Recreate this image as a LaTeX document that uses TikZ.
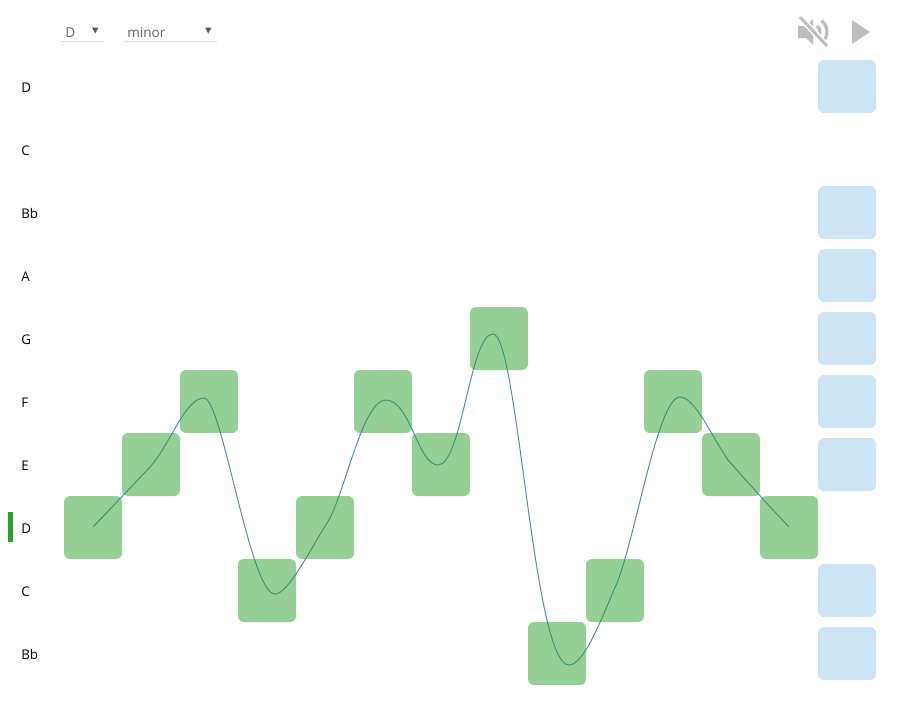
\documentclass[tikz,border=0pt]{standalone}
\usepackage{fontspec}
\setmainfont{Open Sans}
\definecolor{notegreen}{HTML}{2CA02C}
\definecolor{lineblue}{HTML}{4C8DC4}
\definecolor{keyblue}{HTML}{CDE4F4}
\definecolor{icongray}{HTML}{BDBDBD}
\tikzset{
	notebox/.style={fill=notegreen, fill opacity=0.5, rounded corners=4.5bp, minimum width=43.5bp, minimum height=47.25bp, inner sep=0, outer sep=0},
	keybox/.style={fill=keyblue, rounded corners=4.5bp, minimum width=43.5bp, minimum height=39.75bp, inner sep=0, outer sep=0},
	rowlabel/.style={font=\fontsize{10bp}{12bp}\selectfont, text=black, anchor=west, inner sep=0},
	selectlabel/.style={font=\fontsize{10.2bp}{13bp}\selectfont, text=black!62, anchor=west, inner sep=0},
}
\begin{document}
\begin{tikzpicture}[x=0.75bp, y=-0.75bp]
	\useasboundingbox (0, 0) rectangle (908, 708);
	%%%%% SELECTS %%%%%
	\node[selectlabel] (keytext) at (65, 32.5) {D};
	\node[selectlabel] (modetext) at (127, 32.5) {minor};
	\fill[black!65] (92, 27.5) -- (98.5, 27.5) -- (95.25, 33.5) -- cycle;
	\fill[black!65] (205, 27.5) -- (211.5, 27.5) -- (208.25, 33.5) -- cycle;
	\draw[black!13] (61, 41.5) -- (104, 41.5);
	\draw[black!13] (124, 41.5) -- (217, 41.5);
	%%%%% ICONS %%%%%
	\fill[icongray] (798, 26) -- (806, 26) -- (813, 19) -- (813, 45) -- (806, 38) -- (798, 38) -- cycle;
	\draw[icongray, line width=2.4bp] (821.6, 20.5) arc (-50:50:15);
	\draw[icongray, line width=2.4bp] (817.1, 25.9) arc (-50:50:8);
	\draw[white, line width=4.5bp] (798, 15) -- (829, 48);
	\draw[icongray, line width=2.2bp] (800, 17) -- (827, 46);
	\fill[icongray] (852, 20) -- (870, 32) -- (852, 44) -- cycle;
	%%%%% ROW LABELS %%%%%
	\node[rowlabel] (rowa) at (21, 88) {D};
	\node[rowlabel] (rowb) at (21, 151) {C};
	\node[rowlabel] (rowc) at (21, 213) {Bb};
	\node[rowlabel] (rowd) at (21, 277) {A};
	\node[rowlabel] (rowe) at (21, 340) {G};
	\node[rowlabel] (rowf) at (21, 403) {F};
	\node[rowlabel] (rowg) at (21, 466) {E};
	\node[rowlabel] (rowh) at (21, 529) {D};
	\node[rowlabel] (rowi) at (21, 592) {C};
	\node[rowlabel] (rowj) at (21, 654) {Bb};
	\fill[notegreen] (8, 512) rectangle (13, 542);
	%%%%% CURVE %%%%%
	\draw[lineblue, line width=0.75bp] (93, 527) .. controls (113, 506) and (135, 483) .. (150, 467)
		.. controls (170, 445) and (185, 398) .. (204, 398)
		.. controls (222, 398) and (250, 594) .. (275, 594)
		.. controls (288, 594) and (310, 550) .. (327, 523)
		.. controls (345, 495) and (362, 400) .. (386, 400)
		.. controls (410, 400) and (418, 465) .. (438, 465)
		.. controls (462, 465) and (470, 334) .. (493, 334)
		.. controls (518, 334) and (533, 665) .. (569, 665)
		.. controls (585, 665) and (604, 612) .. (617, 583)
		.. controls (636, 535) and (658, 397) .. (680, 397)
		.. controls (695, 397) and (712, 437) .. (728, 460)
		.. controls (742, 476) and (770, 507) .. (789, 527);
	%%%%% NOTES %%%%%
	\foreach \name/\xpos/\ypos in {na/93/527.5, nb/151/464.5, nc/209/401.5, nd/267/590.5, ne/325/527.5,
		nf/383/401.5, ng/441/464.5, nh/499/338.5, ni/557/653.5, nj/615/590.5, nk/673/401.5, nl/731/464.5, nm/789/527.5}
		\node[notebox] (\name) at (\xpos, \ypos) {};
	%%%%% KEYS %%%%%
	\foreach \name/\ypos in {ka/86.5, kb/212.5, kc/275.5, kd/338.5, ke/401.5, kf/464.5, kg/590.5, kh/653.5}
		\node[keybox] (\name) at (847, \ypos) {};
\end{tikzpicture}
\end{document}
